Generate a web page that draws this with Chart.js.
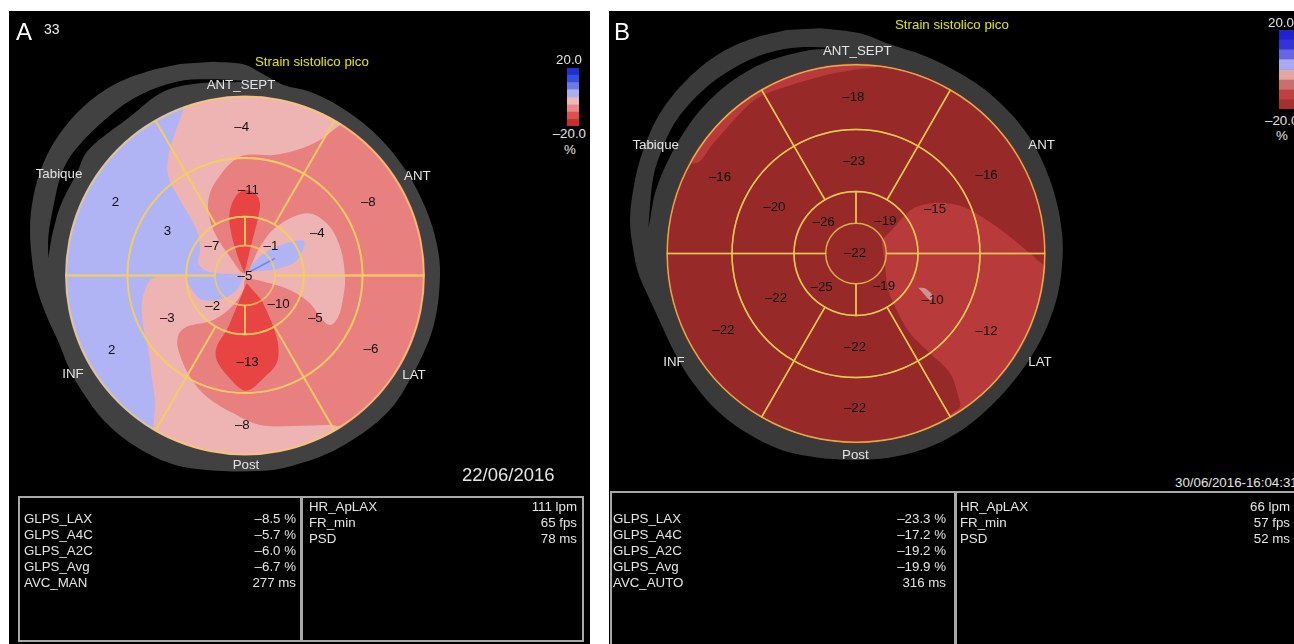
<!DOCTYPE html>
<html>
<head>
<meta charset="utf-8">
<title>Strain sistolico pico</title>
<script src="https://cdn.jsdelivr.net/npm/chart.js@4/dist/chart.umd.min.js"></script>
<style>
  html, body { margin: 0; background: #fff; width: 1294px; height: 644px; overflow: hidden; }
  body { font-family: "Liberation Sans", Arial, sans-serif; }
  .panel { position: absolute; background: #000; }
  .layer { position: absolute; }
  .txt { position: absolute; white-space: nowrap; color: #e4e4e4; font-size: 13.3px; line-height: 16px; }
  .box { position: absolute; border: 2px solid #a8a8a8; box-sizing: border-box; }
</style>
</head>
<body>
<div class="panel" style="left:9px;top:11px;width:581px;height:633px"></div>
<div class="panel" style="left:609px;top:11px;width:685px;height:633px"></div>

<canvas id="bandA" class="layer" width="472" height="529" style="left:9px;top:11px"></canvas>
<canvas id="discA" class="layer" width="472" height="529" style="left:9px;top:11px;clip-path:circle(180px at 50% 50%)"></canvas>
<canvas id="bandB" class="layer" width="494" height="485" style="left:609px;top:11px"></canvas>
<canvas id="discB" class="layer" width="494" height="485" style="left:609px;top:11px;clip-path:circle(190px at 50% 50%)"></canvas>
<canvas id="barA" class="layer" width="12" height="58" style="left:567px;top:68px"></canvas>
<canvas id="barB" class="layer" width="15" height="79" style="left:1279px;top:30px"></canvas>

<div id="texts"></div>

<script>
// segment strain values, outer ring first, clockwise from ANT_SEPT
const outerA = [-4, -8, -6, -8, 2, 2];
const midA = [-11, -4, -5, -13, -3, 3];
const innerA = [-1, -10, -2, -7];
const apexA = [-5];
const outerB = [-18, -16, -12, -22, -22, -16];
const midB = [-23, -15, -10, -22, -22, -20];
const innerB = [-19, -19, -25, -26];
const apexB = [-22];

const wallNames = ['ANT_SEPT', 'ANT', 'LAT', 'Post', 'INF', 'Tabique'];

// where the numbers sit (crop coordinates, 3 units per pixel)
const strainPosA = [[695,263],[1075,488],[1083,928],[697,1155],[305,932],[316,488],
  [715,450],[922,581],[916,835],[713,967],[472,835],[472,574],
  [783,618],[806,794],[608,800],[606,618],[705,708]];
const strainPosB = [[730,262],[1130,497],[1130,964],[735,1195],[340,962],[330,502],
  [732,455],[975,598],[968,870],[735,1012],[498,865],[493,592],
  [826,634],[822,828],[635,832],[641,637],[735,730]];
const wallPosA = [[693,135],[1222,408],[1212,1005],[708,1275],[189,1002],[147,403]];
const wallPosB = [[742,123],[1295,405],[1290,1056],[736,1335],[192,1056],[137,405]];

// grey band round the map
const bandOutlineA = [[610,65],[700,73],[760,103],[820,135],[900,155],[990,200],[1090,275],[1180,380],[1245,500],[1280,610],[1290,710],[1270,860],[1210,1000],[1130,1120],[985,1225],[845,1278],[750,1293],[590,1290],[480,1270],[370,1215],[280,1140],[220,1060],[180,990],[145,905],[115,840],[85,760],[70,690],[60,570],[70,470],[100,370],[150,280],[220,200],[310,135],[410,95],[510,72]];
const bandGapA = [[115,655],[115,590],[130,500],[155,400],[195,330],[295,230],[390,165],[500,125],[610,118],[710,125],[570,130],[460,155],[360,230],[235,330],[200,400],[150,500],[125,590]];
const bandOutlineB = [[630,55],[750,70],[830,100],[950,140],[1050,190],[1150,260],[1250,370],[1320,510],[1355,660],[1355,780],[1330,900],[1270,1030],[1170,1160],[1040,1270],[900,1330],[740,1350],[550,1330],[430,1280],[330,1210],[250,1120],[195,1030],[150,935],[120,870],[85,790],[70,720],[60,630],[75,510],[100,420],[150,310],[230,210],[330,130],[430,85],[530,60]];
const bandGapB = [[115,655],[120,590],[130,500],[155,420],[200,330],[280,240],[370,175],[470,130],[570,112],[670,115],[590,122],[470,155],[370,210],[280,290],[220,370],[170,460],[135,550],[120,630]];

// contour levels of map A
const baseA = [[100,100],[1300,100],[1300,1300],[100,1300]];
const pinkA = [[520,210],[495,280],[475,350],[475,410],[510,480],[560,570],[570,630],[565,670],[595,695],[700,705],[620,712],[525,710],[430,715],[405,750],[395,800],[400,860],[415,930],[425,1010],[435,1090],[430,1160],[425,1300],[1300,1300],[1300,100],[530,100]];
const lensA = [[710,695],[750,650],[800,620],[880,602],[875,640],[850,670],[790,690]];
const streakA = [[720,695],[795,655]];
const tailA = [[525,710],[550,755],[580,780],[640,775],[680,750],[700,712]];
const salmonA = [[1300,200],[1020,240],[990,255],[930,300],[860,330],[790,345],[690,350],[620,420],[595,480],[600,540],[620,590],[660,650],[705,700],[750,620],[800,560],[890,520],[950,550],[990,620],[1005,710],[1000,770],[985,830],[960,855],[930,830],[900,790],[850,755],[780,730],[708,718],[700,750],[670,795],[610,840],[530,860],[505,885],[505,930],[540,1010],[590,1070],[670,1120],[750,1155],[850,1158],[960,1155],[1000,1160],[1300,1160]];
const redTopA = [[703,700],[680,640],[660,560],[660,510],[680,465],[705,450],[735,460],[750,490],[745,530],[730,590],[715,650]];
const redBottomA = [[710,730],[680,800],[650,870],[620,920],[620,960],[655,1010],[708,1052],[765,1010],[800,970],[805,920],[790,860],[755,780]];

// contour levels of map B
const baseB = [[100,100],[1400,100],[1400,1400],[100,1400]];
const rimB = [[800,172],[730,180],[630,200],[460,255],[400,300],[310,400],[255,460],[150,400],[300,150],[800,120]];
const lightB = [[815,690],[850,655],[880,620],[920,590],[990,578],[1060,590],[1130,630],[1200,680],[1260,730],[1310,770],[1400,800],[1400,1300],[1030,1300],[1020,1218],[1050,1190],[1045,1160],[1020,1090],[960,1030],[900,970],[860,900],[835,840],[825,770]];
const spotB = [[925,833],[945,835],[970,860],[960,870],[940,850]];

// colour bar blocks, from zero outwards
const barValues = [5, 5, 5, 5, -5, -5, -5, -5];
const barColorsA = ['#a8b0f0', '#6a7ae8', '#3050e0', '#2030d0', '#eeb8b8', '#e88888', '#dd5050', '#c83030'];
const barColorsB = ['#a9a9f5', '#6666e0', '#3333d8', '#2222d0', '#e0a8a0', '#c87070', '#c04040', '#a83030'];

const rowsLeftA = ['GLPS_LAX', 'GLPS_A4C', 'GLPS_A2C', 'GLPS_Avg', 'AVC_MAN'];
const valsLeftA = ['–8.5 %', '–5.7 %', '–6.0 %', '–6.7 %', '277 ms'];
const rowsRightA = ['HR_ApLAX', 'FR_min', 'PSD'];
const valsRightA = ['111 lpm', '65 fps', '78 ms'];
const rowsLeftB = ['GLPS_LAX', 'GLPS_A4C', 'GLPS_A2C', 'GLPS_Avg', 'AVC_AUTO'];
const valsLeftB = ['–23.3 %', '–17.2 %', '–19.2 %', '–19.9 %', '316 ms'];
const rowsRightB = ['HR_ApLAX', 'FR_min', 'PSD'];
const valsRightB = ['66 lpm', '57 fps', '52 ms'];

const FONT = '13.3px "Liberation Sans", Arial, sans-serif';

function shape(data, color) {
  return { type: 'scatter', data, showLine: true, fill: 'shape', tension: 0.35, backgroundColor: color, borderWidth: 0, pointRadius: 0, weight: 0, clip: false };
}

function ring(values, weight, rotation, line, width, radius) {
  return { type: 'doughnut', data: values.map(() => 1), weight, rotation, radius, cutout: 0, backgroundColor: 'transparent', borderColor: line, borderWidth: width, borderAlign: 'center' };
}

// prints texts through the scales, so they stay on the same grid as the shapes
function textPlugin(labels, positions, color) {
  return {
    id: 'texts',
    afterDatasetsDraw(chart) {
      const { ctx, scales } = chart;
      ctx.save();
      ctx.font = FONT;
      ctx.fillStyle = color;
      ctx.textAlign = 'center';
      ctx.textBaseline = 'middle';
      labels.forEach((t, i) => {
        ctx.fillText(t, scales.x.getPixelForValue(positions[i][0]), scales.y.getPixelForValue(positions[i][1]));
      });
      ctx.restore();
    }
  };
}

function baseOptions(xr, yr) {
  return {
    responsive: false,
    animation: false,
    events: [],
    plugins: { legend: { display: false }, tooltip: { enabled: false } },
    scales: {
      x: { type: 'linear', display: false, min: xr[0], max: xr[1] },
      y: { type: 'linear', display: false, min: yr[0], max: yr[1], reverse: true }
    }
  };
}

function bandChart(id, xr, yr, outline, gap, positions, color) {
  new Chart(document.getElementById(id), {
    type: 'scatter',
    data: { datasets: [shape(gap, '#000'), shape(outline, color)] },
    options: baseOptions(xr, yr),
    plugins: [textPlugin(wallNames, positions, '#e4e4e4')]
  });
}

function discChart(id, xr, yr, rings, layers, positions, strains) {
  new Chart(document.getElementById(id), {
    type: 'scatter',
    data: { datasets: rings.concat(layers) }, // first dataset ends up on top
    options: baseOptions(xr, yr),
    plugins: [textPlugin(strains.map(v => String(v).replace('-', '–')), positions, '#111')]
  });
}

const lineA = 'rgba(246,205,95,0.75)';
const lineB = 'rgba(232,205,80,0.8)';

bandChart('bandA', [-3, 1413], [-87, 1500], bandOutlineA, bandGapA, wallPosA, '#414141');
discChart('discA', [-3, 1413], [-87, 1500], [
  ring(outerA, 61.2, -30, lineA, 1.8, 178.7),
  ring(midA, 58.7, -30, lineA, 1.8, 178.7),
  ring(innerA, 28.8, 0, lineA, 1.8, 178.7),
  ring(apexA, 30, 0, 'transparent', 0, 178.7)
], [
  shape(redBottomA, '#e84444'),
  shape(redTopA, '#e84444'),
  shape(salmonA, '#e88080'),
  { type: 'scatter', data: streakA, showLine: true, borderColor: '#7583dc', borderWidth: 1.6, pointRadius: 0, weight: 0 },
  shape(tailA, '#b0b4f4'),
  shape(lensA, '#b0b4f4'),
  shape(pinkA, '#eeb4b4'),
  Object.assign(shape(baseA, '#b0b4f4'), { tension: 0 })
], strainPosA, [...outerA, ...midA, ...innerA, ...apexA]);

bandChart('bandB', [-3, 1479], [3, 1458], bandOutlineB, bandGapB, wallPosB, '#3a3a3a');
discChart('discB', [-3, 1479], [3, 1458], [
  ring(outerB, 64.8, -30, lineB, 1.5, 188.8),
  ring(midB, 62, -30, lineB, 1.5, 188.8),
  ring(innerB, 31.7, 0, lineB, 1.5, 188.8),
  ring(apexB, 30.3, 0, 'transparent', 0, 188.8)
], [
  shape(spotB, '#d49090'),
  shape(lightB, '#b83a3a'),
  shape(rimB, '#b83a3a'),
  Object.assign(shape(baseB, '#982929'), { tension: 0 })
], strainPosB, [...outerB, ...midB, ...innerB, ...apexB]);

function colorBar(id, colors) {
  new Chart(document.getElementById(id), {
    type: 'bar',
    data: {
      labels: [''],
      datasets: barValues.map((v, i) => ({ data: [v], backgroundColor: colors[i], barPercentage: 1, categoryPercentage: 1 }))
    },
    options: {
      responsive: false,
      animation: false,
      events: [],
      plugins: { legend: { display: false }, tooltip: { enabled: false } },
      scales: {
        x: { stacked: true, display: false },
        y: { stacked: true, display: false, min: -20, max: 20 }
      }
    }
  });
}
colorBar('barA', barColorsA);
colorBar('barB', barColorsB);

// plain text round the charts
const texts = document.getElementById('texts');
function addText(str, x, y, opts = {}) {
  const el = document.createElement('div');
  el.className = 'txt';
  el.textContent = str;
  if (opts.right) el.style.right = (1294 - x) + 'px'; else el.style.left = x + 'px';
  el.style.top = y - 7 + 'px';
  if (opts.size) { el.style.fontSize = opts.size + 'px'; }
  if (opts.color) el.style.color = opts.color;
  texts.appendChild(el);
}
function addBox(x, y, w, h) {
  const el = document.createElement('div');
  el.className = 'box';
  el.style.cssText = `left:${x}px;top:${y}px;width:${w}px;height:${h}px`;
  texts.appendChild(el);
}
function addRows(names, vals, xLeft, xRight, yStart) {
  names.forEach((n, i) => {
    addText(n, xLeft, yStart + i * 16);
    addText(vals[i], xRight, yStart + i * 16, { right: true });
  });
}

addText('A', 16, 31, { size: 24, color: '#fff' });
addText('33', 44, 28, { size: 14, color: '#eee' });
addText('B', 614, 31, { size: 24, color: '#fff' });
addText('Strain sistolico pico', 255, 61, { color: '#e6e600' });
addText('Strain sistolico pico', 895, 24, { color: '#e6e600' });
addText('20.0', 582, 59, { right: true });
addText('–20.0', 586, 133, { right: true });
addText('%', 564, 149);
addText('20.0', 1268, 22);
addText('–20.0', 1265, 120);
addText('%', 1276, 135);
addText('22/06/2016', 462, 474, { size: 18.5 });
addText('30/06/2016-16:04:31', 1175, 482);

addBox(18, 496, 284, 146);
addBox(301, 496, 283, 146);
addBox(610, 491, 346, 170);
addBox(955, 491, 350, 170);
addRows(rowsLeftA, valsLeftA, 24, 296, 518);
addRows(rowsRightA, valsRightA, 309, 577, 506);
addRows(rowsLeftB, valsLeftB, 613, 946, 518);
addRows(rowsRightB, valsRightB, 960, 1290, 506);
</script>
</body>
</html>
